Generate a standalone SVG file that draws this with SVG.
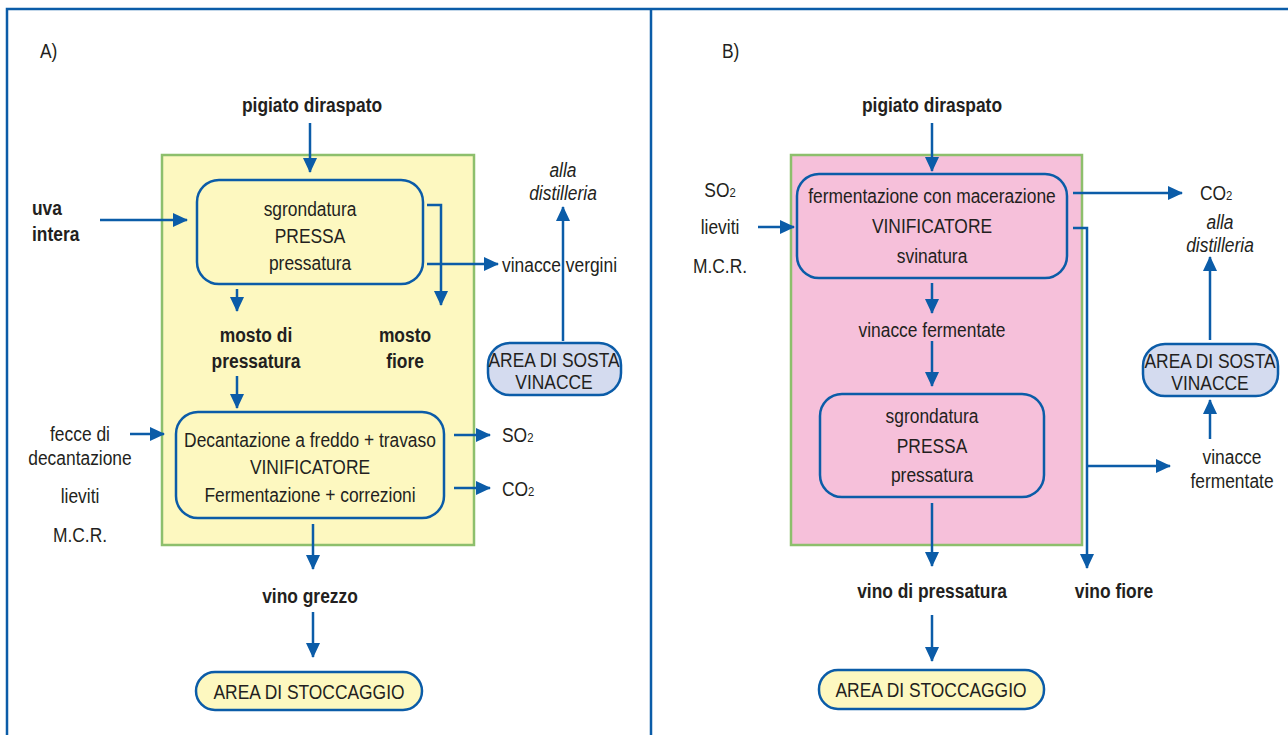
<svg xmlns="http://www.w3.org/2000/svg" width="1288" height="735" viewBox="0 0 1288 735">
<style>
  .t { font-family: "Liberation Sans", Arial, sans-serif; font-size: 20px; fill: #231f20; text-anchor: middle;
       transform-box: fill-box; transform-origin: center; transform: scaleX(0.87); }
  .b { font-weight: bold; }
  .i { font-style: italic; }
  .l { text-anchor: start; transform-origin: left; }
  .frame { fill: none; stroke: #0b5ca8; stroke-width: 2.5; }
  .area { stroke: #8dbf6c; stroke-width: 2.5; }
  .box { stroke: #0b5ca8; stroke-width: 2.5; }
  .yel { fill: #fdf8c0; }
  .pink { fill: #f6c0da; }
  .lav { fill: #d4dbef; }
  .ca { fill: none; stroke: #0b5ca8; stroke-width: 2.5; marker-end: url(#ah); }
</style>
<defs>
  <marker id="ah" markerUnits="userSpaceOnUse" markerWidth="16" markerHeight="14" refX="14" refY="7" orient="auto">
    <path d="M0,0 L15,7 L0,14 Z" fill="#0b5ca8"/>
  </marker>
</defs>
<rect width="1288" height="735" fill="#ffffff"/>

<!-- frame and divider -->
<g id="frame">
  <rect class="frame" x="7" y="9" width="1290" height="740"/>
  <line class="frame" x1="651" y1="9" x2="651" y2="735"/>
</g>

<!-- ===== Panel A ===== -->
<g id="panelA">
  <text class="t l" x="40" y="58">A)</text>
  <rect id="A-area" class="area yel" x="162" y="155" width="312" height="390"/>
</g>

<g id="A-pressa">
  <rect class="box yel" x="197" y="180" width="226" height="104" rx="22"/>
  <text class="t" x="310" y="216">sgrondatura</text>
  <text class="t" x="310" y="243">PRESSA</text>
  <text class="t" x="310" y="270">pressatura</text>
</g>

<g id="A-vinificatore">
  <rect class="box yel" x="176" y="412" width="268" height="106" rx="22"/>
  <text class="t" x="310" y="447">Decantazione a freddo + travaso</text>
  <text class="t" x="310" y="474">VINIFICATORE</text>
  <text class="t" x="310" y="502">Fermentazione + correzioni</text>
</g>

<g id="A-sosta">
  <rect class="box lav" x="488" y="343" width="133" height="52" rx="22"/>
  <text class="t" x="554" y="367">AREA DI SOSTA</text>
  <text class="t" x="554" y="389">VINACCE</text>
</g>

<g id="A-stoccaggio">
  <rect class="box yel" x="196" y="672" width="226" height="38" rx="19"/>
  <text class="t" x="309" y="699">AREA DI STOCCAGGIO</text>
</g>

<g id="A-labels">
  <text class="t b" x="312" y="112">pigiato diraspato</text>
  <text class="t b l" x="32" y="215">uva</text>
  <text class="t b l" x="32" y="241">intera</text>
  <text class="t b" x="256" y="342">mosto di</text>
  <text class="t b" x="256" y="368">pressatura</text>
  <text class="t b" x="405" y="342">mosto</text>
  <text class="t b" x="405" y="368">fiore</text>
  <text class="t l" x="502" y="272">vinacce vergini</text>
  <text class="t i" x="563" y="177">alla</text>
  <text class="t i" x="563" y="200">distilleria</text>
  <text class="t" x="80" y="441">fecce di</text>
  <text class="t" x="80" y="465">decantazione</text>
  <text class="t" x="80" y="503">lieviti</text>
  <text class="t" x="80" y="542">M.C.R.</text>
  <text class="t l" x="502" y="442">SO<tspan font-size="13">2</tspan></text>
  <text class="t l" x="502" y="496">CO<tspan font-size="13">2</tspan></text>
  <text class="t b" x="310" y="603">vino grezzo</text>
</g>

<!-- ===== Panel B ===== -->
<g id="panelB">
  <text class="t l" x="722" y="58">B)</text>
  <rect id="B-area" class="area pink" x="791" y="155" width="291" height="390"/>
</g>

<g id="B-vinificatore">
  <rect class="box pink" x="797" y="174" width="270" height="104" rx="22"/>
  <text class="t" x="932" y="203">fermentazione con macerazione</text>
  <text class="t" x="932" y="233">VINIFICATORE</text>
  <text class="t" x="932" y="263">svinatura</text>
</g>

<g id="B-pressa">
  <rect class="box pink" x="820" y="394" width="224" height="103" rx="22"/>
  <text class="t" x="932" y="423">sgrondatura</text>
  <text class="t" x="932" y="453">PRESSA</text>
  <text class="t" x="932" y="482">pressatura</text>
</g>

<g id="B-sosta">
  <rect class="box lav" x="1143" y="344" width="135" height="52" rx="22"/>
  <text class="t" x="1210" y="368">AREA DI SOSTA</text>
  <text class="t" x="1210" y="390">VINACCE</text>
</g>

<g id="B-stoccaggio">
  <rect class="box yel" x="819" y="670" width="225" height="39" rx="19"/>
  <text class="t" x="931" y="697">AREA DI STOCCAGGIO</text>
</g>

<g id="B-labels">
  <text class="t b" x="932" y="112">pigiato diraspato</text>
  <text class="t" x="720" y="197">SO<tspan font-size="13">2</tspan></text>
  <text class="t" x="720" y="234">lieviti</text>
  <text class="t" x="720" y="273">M.C.R.</text>
  <text class="t l" x="1200" y="200">CO<tspan font-size="13">2</tspan></text>
  <text class="t i" x="1220" y="229">alla</text>
  <text class="t i" x="1220" y="252">distilleria</text>
  <text class="t" x="932" y="337">vinacce fermentate</text>
  <text class="t" x="1232" y="464">vinacce</text>
  <text class="t" x="1232" y="488">fermentate</text>
  <text class="t b" x="932" y="598">vino di pressatura</text>
  <text class="t b" x="1114" y="598">vino fiore</text>
</g>

<!-- ===== Connectors ===== -->
<g id="connectors">
  <!-- panel A -->
  <line class="ca" x1="310" y1="123" x2="310" y2="172"/>
  <line class="ca" x1="100" y1="220" x2="187" y2="220"/>
  <polyline class="ca" points="427,205 441,205 441,305"/>
  <line class="ca" x1="427" y1="264" x2="498" y2="264"/>
  <line class="ca" x1="237" y1="289" x2="237" y2="311"/>
  <line class="ca" x1="237" y1="376" x2="237" y2="408"/>
  <line class="ca" x1="563" y1="341" x2="563" y2="207"/>
  <line class="ca" x1="130" y1="434" x2="164" y2="434"/>
  <line class="ca" x1="454" y1="435" x2="490" y2="435"/>
  <line class="ca" x1="454" y1="488" x2="490" y2="488"/>
  <line class="ca" x1="313" y1="524" x2="313" y2="569"/>
  <line class="ca" x1="313" y1="612" x2="313" y2="657"/>
  <!-- panel B -->
  <line class="ca" x1="932" y1="123" x2="932" y2="171"/>
  <line class="ca" x1="758" y1="227" x2="794" y2="227"/>
  <line class="ca" x1="1073" y1="193" x2="1182" y2="193"/>
  <polyline class="ca" points="1073,228 1087,228 1087,568"/>
  <line class="ca" x1="1087" y1="466" x2="1170" y2="466"/>
  <line class="ca" x1="1210" y1="439" x2="1210" y2="400"/>
  <line class="ca" x1="1210" y1="340" x2="1210" y2="257"/>
  <line class="ca" x1="932" y1="283" x2="932" y2="313"/>
  <line class="ca" x1="932" y1="341" x2="932" y2="386"/>
  <line class="ca" x1="932" y1="503" x2="932" y2="566"/>
  <line class="ca" x1="932" y1="615" x2="932" y2="661"/>
</g>
</svg>
